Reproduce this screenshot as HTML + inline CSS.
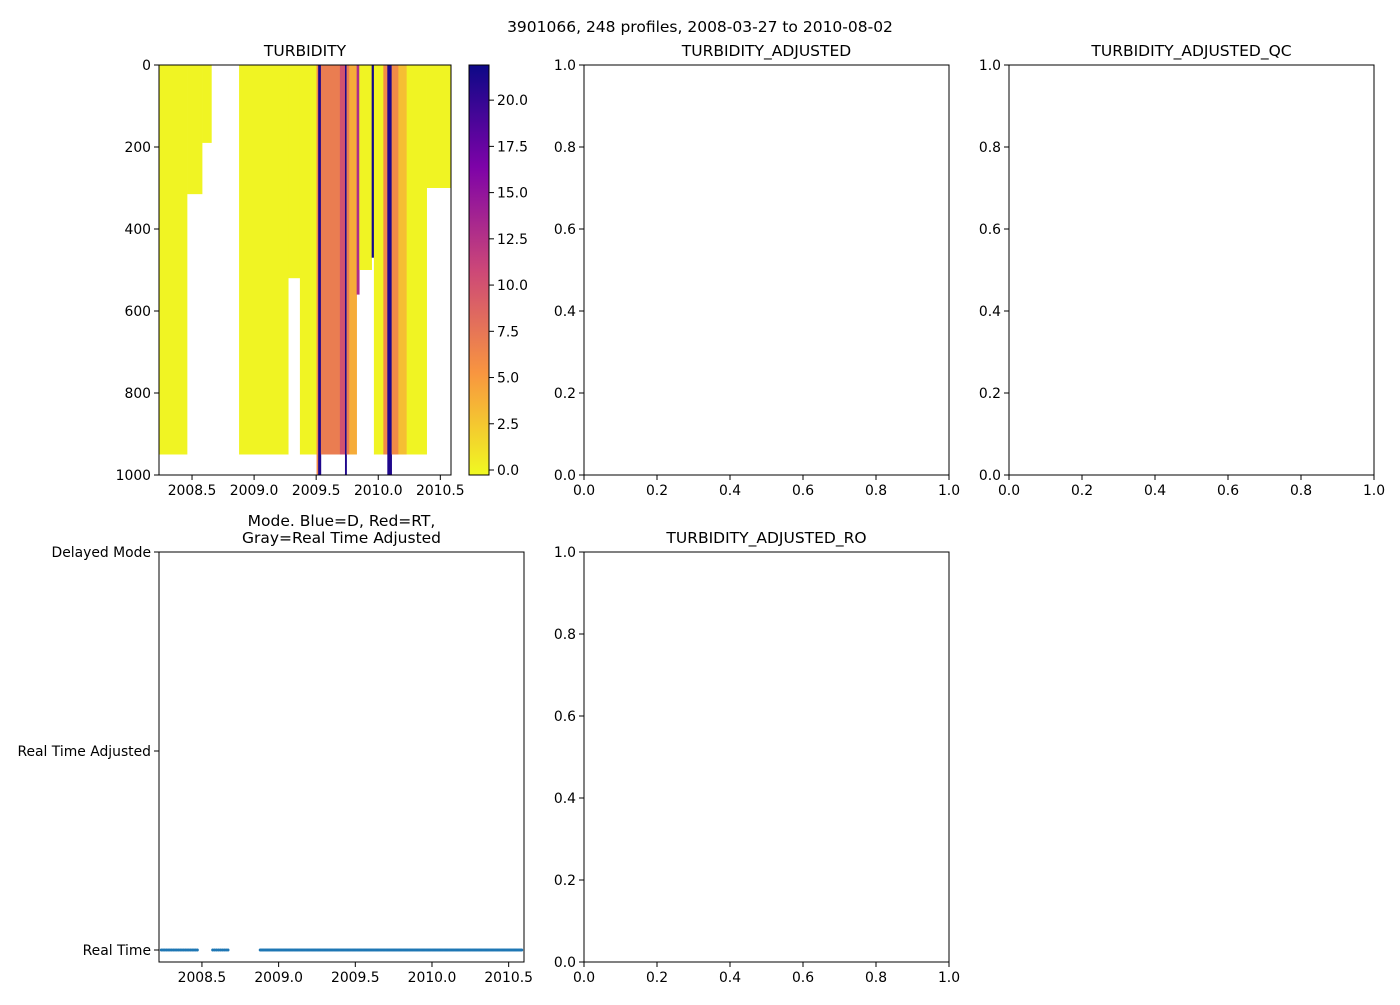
<!DOCTYPE html>
<html><head><meta charset="utf-8"><style>
body{margin:0;background:#fff;}
svg{font-family:"DejaVu Sans","Liberation Sans",sans-serif;}
</style></head><body>
<svg id="fig" width="1400" height="1000" xmlns="http://www.w3.org/2000/svg">
<defs><linearGradient id="cbgrad" x1="0" y1="1" x2="0" y2="0">
<stop offset="0" stop-color="#f0f921"/><stop offset="0.25" stop-color="#f89540"/><stop offset="0.5" stop-color="#cc4778"/><stop offset="0.75" stop-color="#7e03a8"/><stop offset="1" stop-color="#0d0887"/></linearGradient></defs>
<text x="700" y="32" font-size="15.5" text-anchor="middle">3901066, 248 profiles, 2008-03-27 to 2010-08-02</text>
<g id="turb"></g>
<g id="cb"></g>
<g id="empties"></g>
<g id="mode"></g>
</svg>
<script>
// ---- data ----
const bandStart = [2008.234,2008.460,2008.581,2008.879,2009.275,2009.369,2009.503,2009.516,2009.538,2009.691,2009.732,2009.745,2009.766,2009.826,2009.847,2009.947,2009.965,2010.041,2010.073,2010.108,2010.162,2010.229,2010.390];
const bandEnd   = [2008.460,2008.581,2008.656,2009.275,2009.369,2009.503,2009.516,2009.538,2009.691,2009.732,2009.745,2009.766,2009.826,2009.847,2009.947,2009.965,2010.041,2010.073,2010.108,2010.162,2010.229,2010.390,2010.586];
const bandDepth = [950,315,190,950,520,950,1000,1000,950,950,1000,950,950,560,500,470,950,950,1000,950,950,950,300];
const bandValue = [0.0,0.0,0.0,0.0,0.0,0.0,6.0,21.0,7.0,10.0,21.0,7.0,4.0,13.0,0.0,21.5,0.0,6.0,21.0,6.0,3.0,0.0,0.0];
const cbTicks = [0.0,2.5,5.0,7.5,10.0,12.5,15.0,17.5,20.0];
const depthTicks = [0,200,400,600,800,1000];
const yearTicks = [2008.5,2009.0,2009.5,2010.0,2010.5];
const modeSegStart = [2008.235,2008.57,2008.88];
const modeSegEnd   = [2008.47,2008.67,2010.585];
const modeSegCount = [22,9,217];
const unitTicks = [0.0,0.2,0.4,0.6,0.8,1.0];
const modeLabels = ["Real Time","Real Time Adjusted","Delayed Mode"];
const vmin=-0.27, vmax=21.9;
// ---- helpers ----
const NS="http://www.w3.org/2000/svg";
const FS=13.9;
function mk(tag,attrs,parent){const e=document.createElementNS(NS,tag);for(const k in attrs)e.setAttribute(k,attrs[k]);parent.appendChild(e);return e;}
const stops=[[0,[13,8,135]],[0.25,[126,3,168]],[0.5,[204,71,120]],[0.75,[248,149,64]],[1,[240,249,33]]];
function plasma(t){t=Math.max(0,Math.min(1,t));for(let i=1;i<stops.length;i++){if(t<=stops[i][0]){const a=stops[i-1],b=stops[i];const f=(t-a[0])/(b[0]-a[0]);const c=a[1].map((v,j)=>Math.round(v+(b[1][j]-v)*f));return `rgb(${c})`;}}return 'rgb(240,249,33)';}
function colorOf(v){return plasma(1-(v-vmin)/(vmax-vmin));}
function ticksX(g,x,ys,label,dn){mk('line',{x1:x,x2:x,y1:ys,y2:ys+5,stroke:'#000'},g);const t=mk('text',{x:x,y:ys+20,'font-size':FS,'text-anchor':'middle'},g);t.textContent=label;}
function ticksY(g,y,xs,label,dn){mk('line',{x1:xs,x2:xs-5,y1:y,y2:y,stroke:'#000'},g);const t=mk('text',{x:xs-8,y:y+5,'font-size':FS,'text-anchor':'end'},g);t.textContent=label;}
function title(g,x,y,s,dn){const t=mk('text',{x:x,y:y,'font-size':15.5,'text-anchor':'middle'},g);t.textContent=s;}
// ---- turbidity ----
const T=document.getElementById('turb');
const tx0=159,tx1=451,ty0=65,ty1=475,tmin=2008.234,tmax=2010.586;
const tX=v=>tx0+(v-tmin)/(tmax-tmin)*(tx1-tx0);
const tY=d=>ty0+d/1000*(ty1-ty0);
for(let i=0;i<bandStart.length;i++){
  const r=mk('rect',{x:tX(bandStart[i]),y:tY(0),width:Math.max(0.5,tX(bandEnd[i])-tX(bandStart[i])+0.3),height:tY(bandDepth[i])-tY(0),fill:colorOf(bandValue[i])},T);
  
  
}
mk('rect',{x:tx0,y:ty0,width:tx1-tx0,height:ty1-ty0,fill:'none',stroke:'#000'},T);
yearTicks.forEach(v=>{if(v<=tmax)ticksX(T,tX(v),ty1,v.toFixed(1),'x-tick-label');});
depthTicks.forEach(d=>ticksY(T,tY(d),tx0,String(d),'y-tick-label'));
title(T,(tx0+tx1)/2,56,'TURBIDITY','turbidity-title');
// colorbar
const C=document.getElementById('cb');
const cx0=469,cx1=489;
const cY=v=>ty1-(v-vmin)/(vmax-vmin)*(ty1-ty0);
mk('rect',{x:cx0,y:ty0,width:cx1-cx0,height:ty1-ty0,fill:'url(#cbgrad)',stroke:'#000'},C);
cbTicks.forEach(v=>{const y=cY(v);mk('line',{x1:cx1,x2:cx1+5,y1:y,y2:y,stroke:'#000'},C);const t=mk('text',{x:cx1+8,y:y+5,'font-size':FS},C);t.textContent=v.toFixed(1);});
// ---- empty axes ----
const E=document.getElementById('empties');
function emptyAxes(x0,y0,w,h,name,ttl){
  const g=mk('g',{},E);
  mk('rect',{x:x0,y:y0,width:w,height:h,fill:'none',stroke:'#000'},g);
  unitTicks.forEach(v=>{ticksX(g,x0+v*w,y0+h,v.toFixed(1),'x-tick-label');ticksY(g,y0+h-v*h,x0,v.toFixed(1),'y-tick-label');});
  title(g,x0+w/2,y0-9,ttl,name+'-title');
}
emptyAxes(584,65,365,410,'turbidity-adjusted-panel','TURBIDITY_ADJUSTED');
emptyAxes(1009,65,365,410,'turbidity-adjusted-qc-panel','TURBIDITY_ADJUSTED_QC');
emptyAxes(584,552,365,410,'turbidity-adjusted-ro-panel','TURBIDITY_ADJUSTED_RO');
// ---- mode ----
const M=document.getElementById('mode');
const mx0=159,mx1=524,my0=552,my1=962,mmin=2008.22,mmax=2010.6;
const mX=v=>mx0+(v-mmin)/(mmax-mmin)*(mx1-mx0);
const mY=k=>950-k*(950-552)/2;
for(let s=0;s<modeSegStart.length;s++){
  for(let i=0;i<modeSegCount[s];i++){
    const v=modeSegStart[s]+(modeSegEnd[s]-modeSegStart[s])*i/Math.max(1,modeSegCount[s]-1);
    const c=mk('circle',{cx:mX(v),cy:mY(0),r:1.5,fill:'#1f77b4'},M);
    
    
  }
}
mk('rect',{x:mx0,y:my0,width:mx1-mx0,height:my1-my0,fill:'none',stroke:'#000'},M);
yearTicks.forEach(v=>ticksX(M,mX(v),my1,v.toFixed(1),'x-tick-label'));
modeLabels.forEach((l,k)=>ticksY(M,mY(k),mx0,l,'mode-tick-label'));
title(M,(mx0+mx1)/2,526,'Mode. Blue=D, Red=RT,','mode-title-line1');
title(M,(mx0+mx1)/2,543,'Gray=Real Time Adjusted','mode-title-line2');
</script>
</body></html>
